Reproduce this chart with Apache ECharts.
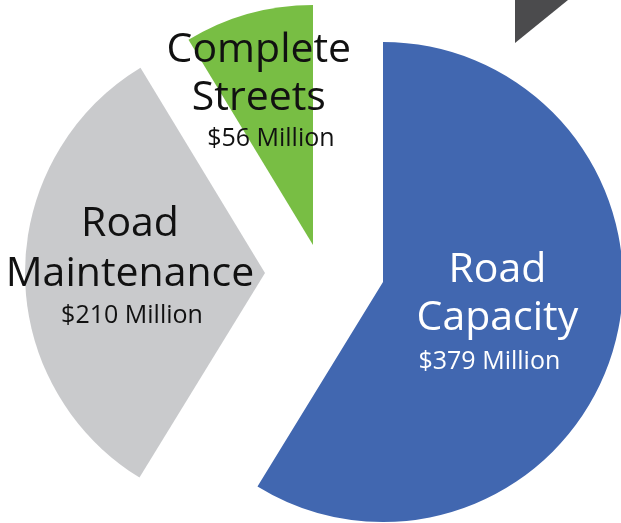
<!DOCTYPE html>
<html>
<head>
<meta charset="utf-8">
<script src="https://cdn.jsdelivr.net/npm/echarts@6/dist/echarts.min.js"></script>
<style>
html,body{margin:0;padding:0;background:#fff;}
#chart{width:621px;height:523px;}
</style>
</head>
<body>
<div id="chart"></div>
<script>
// Data
var categories = ['Road Capacity', 'Road Maintenance', 'Complete Streets'];
var values = [379, 210, 56];
var titleLines = ['Road\nCapacity', 'Road\nMaintenance', 'Complete\nStreets'];
var amountLabels = ['$379 Million', '$210 Million', '$56 Million'];

// Styles / layout (not data)
var colors = ['#4167B0', '#C9CACC', '#78BE44'];
var textColors = ['#ffffff', '#111111', '#111111'];
var centers = [[383, 282], [265, 273], [313, 245]];
var labelOffsets = [[-4, -2], [-12, -7], [-21, -36]];
var titleLH = [48, 50, 48];
var amountLH = [38, 32, 32];
var amountPad = [[0, 16, 0, 0], [0, 0, 0, 4], [0, 0, 0, 24]];
var RADIUS = 240;
var FONT = '"Open Sans", "Noto Sans", sans-serif';

function buildSeries(k) {
  return {
    type: 'pie',
    silent: true,
    radius: RADIUS,
    center: centers[k],
    startAngle: 90,
    clockwise: true,
    avoidLabelOverlap: false,
    animation: false,
    labelLine: { show: false },
    label: { show: false },
    emphasis: { disabled: true },
    data: categories.map(function (c, i) {
      var on = i === k;
      return {
        name: c,
        value: values[i],
        itemStyle: { color: on ? colors[i] : 'rgba(0,0,0,0)', borderWidth: 0 },
        label: on ? {
          show: true,
          position: 'inside',
          offset: labelOffsets[i],
          formatter: '{t|' + titleLines[i].split('\n').join('}\n{t|') + '}\n{m|' + amountLabels[i] + '}',
          rich: {
            t: { fontFamily: FONT, fontSize: 41, lineHeight: titleLH[i], color: textColors[i], align: 'center' },
            m: { fontFamily: FONT, fontSize: 25, lineHeight: amountLH[i], color: textColors[i], align: 'center', padding: amountPad[i] }
          }
        } : { show: false }
      };
    })
  };
}

var chart = echarts.init(document.getElementById('chart'), null, { renderer: 'canvas' });
chart.setOption({
  backgroundColor: '#ffffff',
  animation: false,
  graphic: [{
    type: 'polygon',
    silent: true,
    shape: { points: [[515, 0], [515, 43], [568, 0]] },
    style: { fill: '#4B4B4D' }
  }],
  series: [buildSeries(0), buildSeries(1), buildSeries(2)]
});
</script>
</body>
</html>
